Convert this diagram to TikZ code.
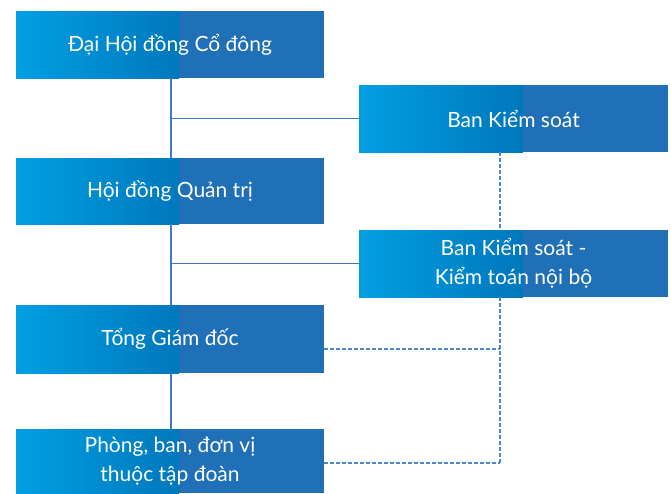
\documentclass[tikz,border=0pt]{standalone}
\usepackage{fontspec}
\setmainfont{Lato}
\usetikzlibrary{calc}
\definecolor{gA}{HTML}{00A0E2}
\definecolor{gB}{HTML}{0077BD}
\definecolor{gC}{HTML}{1F70B7}
\definecolor{lineblue}{HTML}{3C7BC3}
\definecolor{dashblue}{HTML}{4A88CA}
\tikzset{
  orgbox/.style={rectangle, inner sep=0pt, text=white, align=center,
    font=\fontsize{21}{29}\selectfont,
    path picture={
      \fill[gC] (path picture bounding box.south west) rectangle (path picture bounding box.north east);
      \shade[left color=gA, right color=gB]
        (path picture bounding box.south west) rectangle
        ($(path picture bounding box.north west)!0.53!(path picture bounding box.north east)$);
    }},
  solidline/.style={draw=lineblue, line width=1.2pt},
  dashline/.style={draw=dashblue, line width=1.2pt, dash pattern=on 3.5pt off 2.5pt}
}
\begin{document}
\begin{tikzpicture}[x=1pt,y=-1pt]
\useasboundingbox (0,0) rectangle (671,493);
\node[orgbox, minimum width=308pt, minimum height=67pt] (dh) at (170,44.5) {Đại Hội đồng Cổ đông};
\node[orgbox, minimum width=309pt, minimum height=67pt] (bks) at (513.5,118.5) {Ban Kiểm soát};
\node[orgbox, minimum width=308pt, minimum height=66pt] (hd) at (170,191) {Hội đồng Quản trị};
\node[orgbox, minimum width=309pt, minimum height=67pt] (kt) at (513.5,263.5) {Ban Kiểm soát -\\Kiểm toán nội bộ};
\node[orgbox, minimum width=308pt, minimum height=68pt] (tgd) at (170,339) {Tổng Giám đốc};
\node[orgbox, minimum width=308pt, minimum height=64pt] (pb) at (170,461) {Phòng, ban, đơn vị\\thuộc tập đoàn};
\coordinate (j1) at (171,118.5);
\coordinate (j2) at (171,263.5);
\coordinate (d0) at (500,152);
\coordinate (d1) at (500,349);
\coordinate (d2) at (500,463);
\draw[solidline] (171,78) -- (j1) -- (171,158);
\draw[solidline] (171,224) -- (j2) -- (171,305);
\draw[solidline] (171,373) -- (171,429);
\draw[solidline] (j1) -- (bks.west);
\draw[solidline] (j2) -- (kt.west);
\draw[dashline] (d0) -- (500,230);
\draw[dashline] (500,297) -- (d2);
\draw[dashline] (tgd.east |- d1) -- (d1);
\draw[dashline] (pb.east |- d2) -- (d2);
\end{tikzpicture}
\end{document}
